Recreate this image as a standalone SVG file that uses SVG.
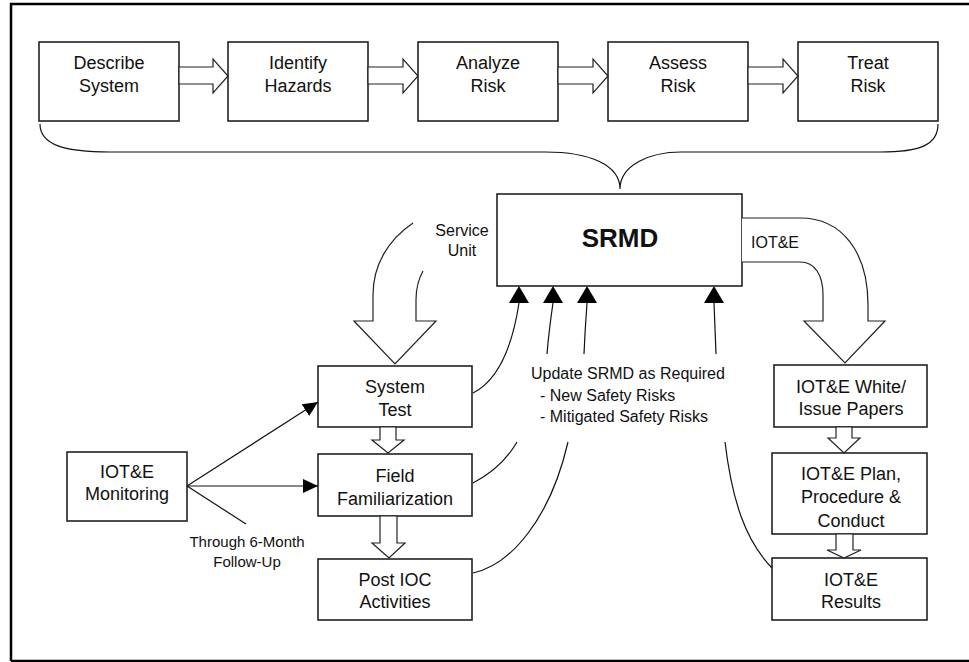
<svg xmlns="http://www.w3.org/2000/svg" width="969" height="662" viewBox="0 0 969 662">
<style>
.box{fill:#fff;stroke:#222;stroke-width:1.6}
.t{font-family:"Liberation Sans",Arial,Helvetica,sans-serif;font-size:18px;fill:#111;text-anchor:middle}
.lbl{font-family:"Liberation Sans",Arial,Helvetica,sans-serif;font-size:16px;fill:#111}
.blk{fill:#fff;stroke:#222;stroke-width:1.2;stroke-linejoin:miter}
.ln{fill:none;stroke:#111;stroke-width:1.2}
.ah{fill:#000}
</style>
<defs>
<marker id="ah" markerWidth="15" markerHeight="14" refX="15" refY="7" orient="auto" markerUnits="userSpaceOnUse"><path d="M0,0 L15,7 L0,14 z" fill="#000"/></marker>
</defs>
<rect width="969" height="662" fill="#fff"/>
<path d="M11,661 V4 H975 M11,661 H975" fill="none" stroke="#000" stroke-width="2.5"/>

<g id="n_describe"><rect class="box" x="39" y="42" width="140" height="79"/><text class="t" x="109" y="69">Describe</text><text class="t" x="109" y="92">System</text></g>
<g id="n_identify"><rect class="box" x="228" y="42" width="140" height="79"/><text class="t" x="298" y="69">Identify</text><text class="t" x="298" y="92">Hazards</text></g>
<g id="n_analyze"><rect class="box" x="418" y="42" width="140" height="79"/><text class="t" x="488" y="69">Analyze</text><text class="t" x="488" y="92">Risk</text></g>
<g id="n_assess"><rect class="box" x="608" y="42" width="140" height="79"/><text class="t" x="678" y="69">Assess</text><text class="t" x="678" y="92">Risk</text></g>
<g id="n_treat"><rect class="box" x="798" y="42" width="140" height="79"/><text class="t" x="868" y="69">Treat</text><text class="t" x="868" y="92">Risk</text></g>

<g id="n_srmd"><rect class="box" x="497" y="194" width="245" height="92"/><text class="t" x="620" y="247" style="font-weight:bold;font-size:26px">SRMD</text></g>

<g id="n_systest"><rect class="box" x="318" y="366" width="154" height="61"/><text class="t" x="395" y="393">System</text><text class="t" x="395" y="416">Test</text></g>
<g id="n_field"><rect class="box" x="318" y="454" width="154" height="62"/><text class="t" x="395" y="482">Field</text><text class="t" x="395" y="505">Familiarization</text></g>
<g id="n_postioc"><rect class="box" x="318" y="559" width="154" height="61"/><text class="t" x="395" y="586">Post IOC</text><text class="t" x="395" y="608">Activities</text></g>
<g id="n_monitor"><rect class="box" x="67" y="452" width="120" height="69"/><text class="t" x="127" y="478">IOT&amp;E</text><text class="t" x="127" y="500">Monitoring</text></g>
<g id="n_white"><rect class="box" x="774" y="365" width="153" height="62"/><text class="t" x="851" y="393">IOT&amp;E White/</text><text class="t" x="851" y="415">Issue Papers</text></g>
<g id="n_plan"><rect class="box" x="772" y="453" width="155" height="81"/><text class="t" x="851" y="480">IOT&amp;E Plan,</text><text class="t" x="851" y="503">Procedure &amp;</text><text class="t" x="851" y="527">Conduct</text></g>
<g id="n_results"><rect class="box" x="772" y="558" width="155" height="62"/><text class="t" x="851" y="586">IOT&amp;E</text><text class="t" x="851" y="608">Results</text></g>

<g id="connectors">
<!-- top block arrows -->
<polygon class="blk" points="179,67 213,67 213,59 228,76 213,93 213,84 179,84"/>
<polygon class="blk" points="368,67 403,67 403,59 418,76 403,93 403,84 368,84"/>
<polygon class="blk" points="558,67 593,67 593,59 608,76 593,93 593,84 558,84"/>
<polygon class="blk" points="748,67 783,67 783,59 798,76 783,93 783,84 748,84"/>
<!-- brace -->
<path class="ln" d="M40,124 C40,145 65,152 110,152 H545 C590,152 620,165 620,189 C620,165 650,152 681,152 H880 C920,152 938,145 938,124"/>
<!-- service unit curved block arrow -->
<path class="blk" style="fill:none" d="M413,223 C388,240 373,265 373,295 V321 H354 L395,364 L436,321 H416 V300 C416,290 418,280 423,271"/>
<!-- IOT&E curved block arrow -->
<path class="blk" d="M742,218 H800 C842,218 868,252 868,305 V321 H885 L845,363 L804,321 H823 V295 C823,275 815,262 800,262 H742"/>
<!-- small vertical block arrows -->
<polygon class="blk" points="380,427 396,427 396,440 404,440 388,453 372,440 380,440"/>
<polygon class="blk" points="380,516 397,516 397,543 405,543 389,558 372,543 380,543"/>
<polygon class="blk" points="836,427 852,427 852,438 860,438 844,453 828,438 836,438"/>
<polygon class="blk" points="836,534 853,534 853,550 861,550 844,558 827,550 836,550"/>
<!-- monitoring arrows -->
<line class="ln" x1="187" y1="486" x2="318" y2="402" marker-end="url(#ah)"/>
<line class="ln" x1="187" y1="486" x2="318" y2="486" marker-end="url(#ah)"/>
<line class="ln" x1="187" y1="486" x2="246" y2="524"/>
<!-- update lines into SRMD -->
<path class="ln" d="M473,393 Q508,375 519,303"/>
<path class="ln" d="M473,483 Q502,468 517,442"/>
<path class="ln" d="M547,354 Q549,330 553,303"/>
<path class="ln" d="M473,573 C510,565 550,520 568,442"/>
<path class="ln" d="M584,354 Q585,330 587,303"/>
<path class="ln" d="M725,442 C732,500 745,540 772,568"/>
<path class="ln" d="M716,354 Q715,330 714,303"/>
<polygon class="ah" points="519,286 529,303 509,303"/>
<polygon class="ah" points="553,286 563,303 543,303"/>
<polygon class="ah" points="587,286 597,303 577,303"/>
<polygon class="ah" points="714,286 724,303 704,303"/>
</g>

<g id="labels">
<text class="lbl" x="462" y="236" text-anchor="middle">Service</text>
<text class="lbl" x="462" y="256" text-anchor="middle">Unit</text>
<text class="lbl" x="751" y="248">IOT&amp;E</text>
<text class="lbl" x="247" y="547" text-anchor="middle" style="font-size:15px">Through 6-Month</text>
<text class="lbl" x="247" y="567" text-anchor="middle" style="font-size:15px">Follow-Up</text>
<text class="lbl" x="531" y="379">Update SRMD as Required</text>
<text class="lbl" x="540" y="401">- New Safety Risks</text>
<text class="lbl" x="540" y="422">- Mitigated Safety Risks</text>
</g>
</svg>
